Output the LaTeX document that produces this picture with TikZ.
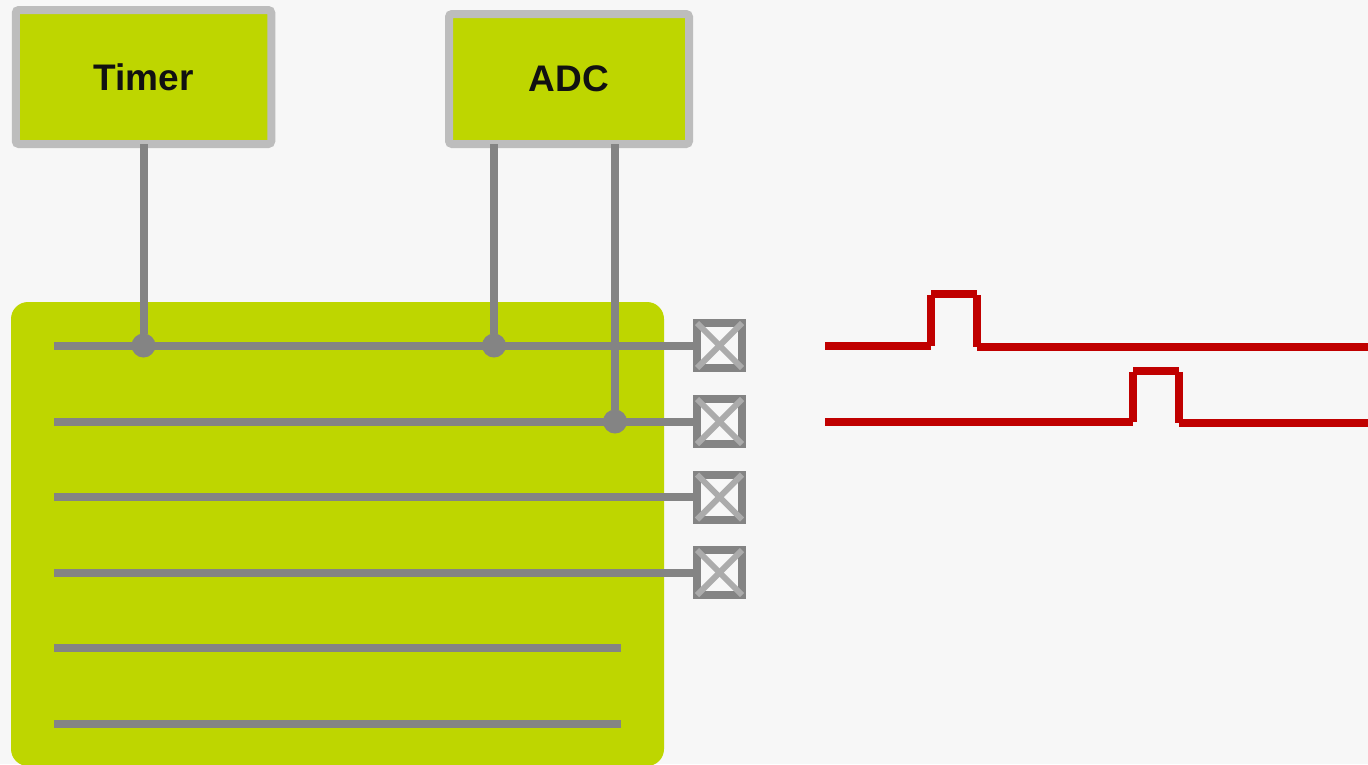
\documentclass[tikz,border=0pt]{standalone}
\usepackage{fontspec}
\setmainfont{Liberation Sans}
\usetikzlibrary{positioning}
\definecolor{boardgreen}{HTML}{BED600}
\definecolor{pagegray}{HTML}{F7F7F7}
\definecolor{framegray}{HTML}{BDBDBD}
\definecolor{wiregray}{HTML}{848484}
\definecolor{crossgray}{HTML}{ABABAB}
\definecolor{pulsered}{HTML}{C00000}
\definecolor{labelblack}{HTML}{111111}
\tikzstyle{block} = [rectangle, draw=framegray, fill=boardgreen, line width=8pt, rounded corners=3pt,
    outer sep=0pt, minimum height=134pt, text=labelblack, font=\fontsize{37}{40}\selectfont\bfseries]
\tikzstyle{board} = [rectangle, fill=boardgreen, rounded corners=17pt, outer sep=0pt,
    minimum width=653pt, minimum height=464pt]
\tikzstyle{pad} = [rectangle, draw=wiregray, fill=pagegray, line width=8pt, outer sep=0pt,
    minimum size=45pt, inner sep=0pt]
\tikzstyle{joint} = [circle, fill=wiregray, minimum size=24pt, inner sep=0pt, outer sep=0pt]
\tikzstyle{line} = [draw=wiregray, line width=8pt]
\tikzstyle{cross} = [draw=crossgray, line width=6pt]
\tikzstyle{pulse} = [draw=pulsered, line width=8pt]

\begin{document}
\begin{tikzpicture}[x=1pt, y=-1pt]
\useasboundingbox (0,0) rectangle (1368,764);
\fill [pagegray] (0,0) rectangle (1368,764);

\node [board] (board) at (337.5,534) {};
\node [block, minimum width=255.5pt] (timer) at (143.5,77) {Timer};
\node [block, minimum width=240pt, minimum height=130pt] (adc) at (569,79) {ADC};

\node [pad] (pad1) at (719.5,345.5) {};
\node [pad] (pad2) at (719.5,421.5) {};
\node [pad] (pad3) at (719.5,497) {};
\node [pad] (pad4) at (719.5,572.5) {};

\coordinate (line1) at (54,345.5);
\coordinate (line2) at (54,421.5);
\coordinate (line3) at (54,497);
\coordinate (line4) at (54,572.5);
\coordinate (line5) at (54,648);
\coordinate (line6) at (54,723.5);
\coordinate (end5) at (621,648);
\coordinate (end6) at (621,723.5);

\node [joint] (jtimer) at (143.5,345.5) {};
\node [joint] (jadc1) at (494,345.5) {};
\node [joint] (jadc2) at (615,421.5) {};

% outputs
\path [line] (line1) -- (pad1);
\path [line] (line2) -- (pad2);
\path [line] (line3) -- (pad3);
\path [line] (line4) -- (pad4);
\path [line] (line5) -- (end5);
\path [line] (line6) -- (end6);

\path [line] (timer.south) -- (jtimer);
\path [line] (adc.south -| jadc1) -- (jadc1);
\path [line] (adc.south -| jadc2) -- (jadc2);

\path [cross] (pad1.north west) -- (pad1.south east);
\path [cross] (pad1.north east) -- (pad1.south west);
\path [cross] (pad2.north west) -- (pad2.south east);
\path [cross] (pad2.north east) -- (pad2.south west);
\path [cross] (pad3.north west) -- (pad3.south east);
\path [cross] (pad3.north east) -- (pad3.south west);
\path [cross] (pad4.north west) -- (pad4.south east);
\path [cross] (pad4.north east) -- (pad4.south west);

% waveforms
\coordinate (a0) at (825,345.5);
\coordinate (a1) at (931,345.5);
\coordinate (a2) at (931,293.7);
\coordinate (a3) at (976.5,293.7);
\coordinate (a4) at (976.5,347.2);
\coordinate (a5) at (1368,347.2);
\path [pulse] (a0) -- (a1);
\path [pulse, shorten >=1.3pt] (a1) -- (a2);
\path [pulse] (a2) -- (a3);
\path [pulse, shorten <=1.3pt] (a3) -- (a4);
\path [pulse] (a4) -- (a5);

\coordinate (b0) at (825,421.5);
\coordinate (b1) at (1133,421.5);
\coordinate (b2) at (1133,370.5);
\coordinate (b3) at (1179,370.5);
\coordinate (b4) at (1179,423);
\coordinate (b5) at (1368,423);
\path [pulse] (b0) -- (b1);
\path [pulse, shorten >=1.3pt] (b1) -- (b2);
\path [pulse] (b2) -- (b3);
\path [pulse, shorten <=1.3pt] (b3) -- (b4);
\path [pulse] (b4) -- (b5);
\end{tikzpicture}
\end{document}
